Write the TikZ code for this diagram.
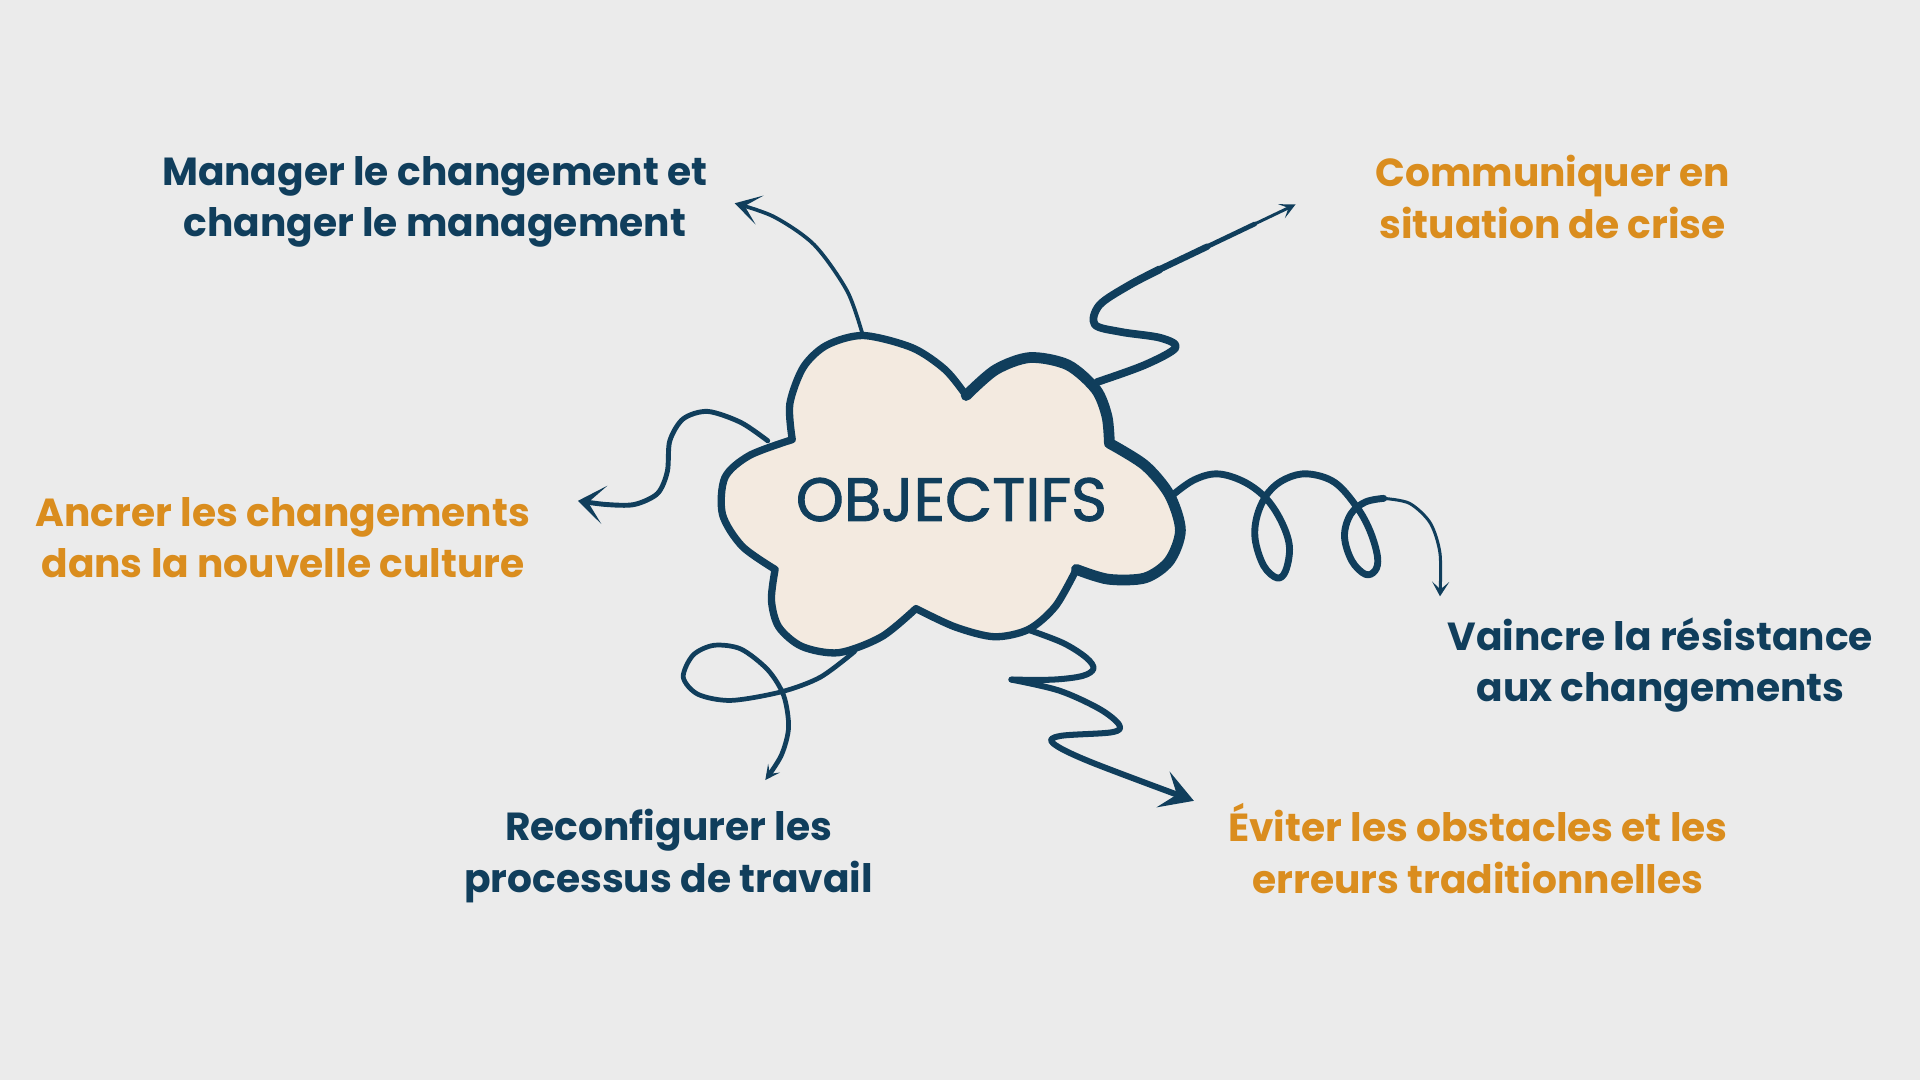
\documentclass[tikz,border=0pt]{standalone}
\usepackage{fontspec}
\setmainfont{Poppins}
\newfontface\objfont{Poppins}[FakeBold=1.5]
\usetikzlibrary{arrows.meta,calc}
\definecolor{navy}{RGB}{16,62,92}
\definecolor{amber}{RGB}{218,141,30}
\definecolor{bgc}{RGB}{235,235,235}
\definecolor{cloudc}{RGB}{243,234,224}
\begin{document}
\begin{tikzpicture}[x=0.05cm,y=-0.05cm,
  lbl/.style={font=\bfseries\fontsize{45.5}{60}\selectfont, align=center, inner sep=0pt},
  bluelbl/.style={lbl, text=navy},
  orangelbl/.style={lbl, text=amber},
  conn/.style={draw=navy, line cap=round, line join=round},
  cloudline/.style={draw=navy, line cap=round, line join=round}]
\fill[bgc] (0,0) rectangle (1568,882);
\useasboundingbox (0,0) rectangle (1568,882);

% connector end points
\coordinate (ctl) at (705,275);
\coordinate (ttl) at (600,166);
\coordinate (ctr) at (896,312);
\coordinate (ttr) at (1058,167);
\coordinate (cr) at (958,404);
\coordinate (tr) at (1176,487);
\coordinate (cl) at (627,360);
\coordinate (tl) at (472,409);
\coordinate (cbl) at (698,532);
\coordinate (tbl) at (625,637);
\coordinate (cbr) at (839,514);
\coordinate (tbr) at (975,654);

% top-left arrow
\draw[conn, line width=4.3pt, -{Stealth[length=30pt,width=35pt,inset=18pt]}]
  plot[smooth] coordinates {(ctl) (692,238) (665,200) (632,177) (ttl)};

% top-right zigzag arrow
\draw[conn, line width=9pt]
  plot[smooth, tension=0.55] coordinates {(ctr) (935,298) (960,284) (948,276) (915,271) (894,265) (898,249) (922,233) (947,220)};
\coordinate (p0) at (947,220);
\coordinate (p1) at ($(p0)!0.35!(ttr)$);
\coordinate (p2) at ($(p0)!0.7!(ttr)$);
\draw[conn, line width=7.5pt] (p0) -- (p1);
\draw[conn, line width=5.5pt] (p1) -- (p2);
\draw[conn, line width=3.5pt, -{Stealth[length=18pt,width=18pt,inset=9pt]}] (p2) -- (ttr);

% right loops arrow
\draw[conn, line width=8pt]
  plot[smooth, tension=0.6] coordinates {(cr) (975,392) (994,387) (1015,393) (1033,406) (1046,425) (1053,446) (1050,466) (1043,472) (1032,462) (1025,440) (1027,420) (1036,402) (1050,391) (1068,387) (1090,394) (1108,414) (1119,434) (1125,455) (1123,466) (1115,469) (1104,458) (1098,438) (1103,420) (1115,410) (1130,407)};
\draw[conn, line width=3.5pt, -{Stealth[length=17pt,width=20pt,inset=9pt]}]
  plot[smooth] coordinates {(1130,407) (1151,411) (1168,427) (1176,452) (tr)};

% left arrow
\draw[conn, line width=5.7pt, -{Stealth[length=31pt,width=45pt,inset=19pt]}]
  plot[smooth] coordinates {(cl) (605,345) (578,336) (558,342) (547,360) (545,385) (537,403) (518,412) (495,412) (tl)};

% bottom-left loop arrow
\draw[conn, line width=5.5pt, -{Stealth[length=17pt,width=17pt,inset=8pt]}]
  plot[smooth] coordinates {(cbl) (670,553) (638,565) (597,572) (570,567) (558,553) (566,535) (583,527) (605,530) (627,547) (640,568) (644,594) (638,617) (tbl)};

% bottom-right zigzag arrow
\draw[conn, line width=7pt]
  plot[smooth, tension=0.55] coordinates {(cbr) (868,525) (887,537) (893,546) (884,552) (860,555) (826,555)};
\draw[conn, line width=7pt, -{Stealth[length=38pt,width=44pt,inset=17pt]}]
  plot[smooth, tension=0.55] coordinates {(826,555) (865,564) (898,579) (914,592) (908,598) (866,601) (860,607) (890,622) (tbr)};

% cloud
\path[fill=cloudc, cloudline, line width=8.5pt]
  plot[smooth] coordinates {(647,359) (645,330) (656,300) (675,282) (705,274) (745,284) (772,302) (789,323)}
  -- plot[smooth] coordinates {(789,323) (813,302) (841,292) (872,298) (895,318) (904,340) (906,362)}
  -- plot[smooth] coordinates {(906,362) (935,380) (955,404) (964,433) (955,458) (935,472) (905,473) (879,465)}
  -- plot[smooth] coordinates {(879,465) (862,495) (840,514) (812,520) (780,512) (748,497)}
  -- plot[smooth] coordinates {(748,497) (720,520) (685,533) (655,528) (636,512) (630,490) (633,465)}
  -- plot[smooth] coordinates {(633,465) (606,446) (590,420) (592,390) (612,372) (647,359)}
  -- cycle;
\draw[cloudline, line width=12.5pt]
  plot[smooth] coordinates {(789,323) (813,302) (841,292) (872,298) (895,318) (904,340) (906,362)}
  -- plot[smooth] coordinates {(906,362) (935,380) (955,404) (964,433) (955,458) (935,472) (905,473) (879,465)};

\node[text=navy, font=\objfont\fontsize{71}{80}\selectfont, inner sep=0pt] (obj) at (777,408) {OBJECTIFS};

\node[bluelbl] (lmanage) at (355,165) {Manager le changement et\\changer le management};
\node[orangelbl] (lcomm) at (1268,161) {Communiquer en\\situation de crise};
\node[orangelbl] (lancrer) at (231,439) {Ancrer les changements\\dans la nouvelle culture};
\node[bluelbl] (lvaincre) at (1356,543) {Vaincre la résistance\\aux changements};
\node[bluelbl] (lreconf) at (546,699) {Reconfigurer les\\processus de travail};
\node[orangelbl] (leviter) at (1207,693) {Éviter les obstacles et les\\erreurs traditionnelles};
\end{tikzpicture}
\end{document}
